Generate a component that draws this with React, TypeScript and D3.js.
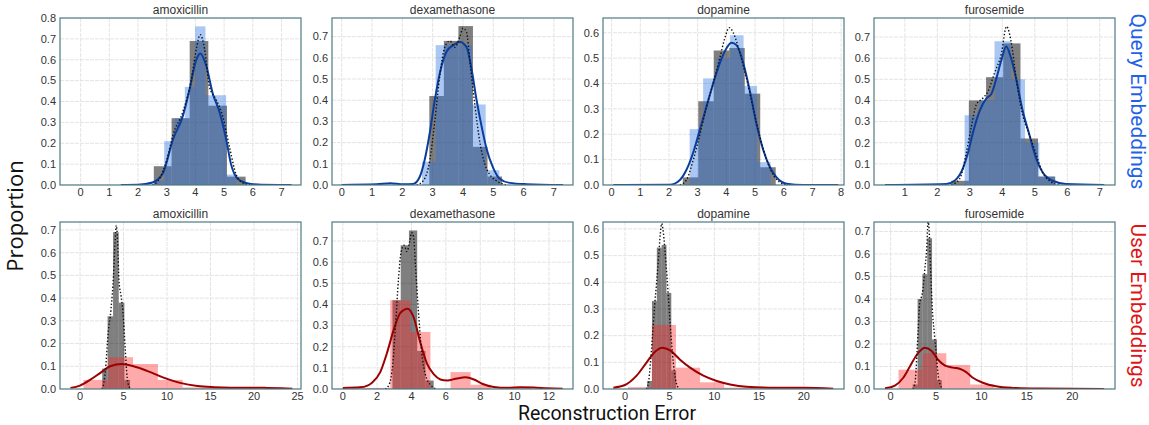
import React, { useEffect, useRef } from "react";
import * as d3 from "d3";

const drugs = ["amoxicillin", "dexamethasone", "dopamine", "furosemide"];

// gray reference histogram + dotted kde, same in both rows
const baseEdges = [
	[2.55, 3.17, 3.8, 4.45, 5.1, 5.75],
	[2.89, 3.37, 3.85, 4.33, 4.81, 5.29],
	[2.48, 3.02, 3.56, 4.1, 4.64, 5.18, 5.72],
	[2.43, 2.97, 3.5, 4.03, 4.56, 5.1, 5.63],
];
const baseHeights = [
	[0.09, 0.32, 0.69, 0.38, 0.04],
	[0.42, 0.68, 0.75, 0.18, 0.04],
	[0.03, 0.33, 0.53, 0.54, 0.36, 0.07],
	[0.02, 0.4, 0.51, 0.67, 0.22, 0.04],
];
const baseKde = [
	[[2.5, 0], [2.75, 0.03], [3.0, 0.12], [3.22, 0.24], [3.56, 0.35], [3.85, 0.5], [4.03, 0.65], [4.17, 0.72], [4.32, 0.65], [4.49, 0.47], [4.72, 0.41], [4.95, 0.33], [5.19, 0.18], [5.42, 0.05], [5.65, 0.01], [5.9, 0]],
	[[2.47, 0], [2.69, 0.02], [2.91, 0.12], [3.07, 0.3], [3.24, 0.52], [3.4, 0.65], [3.57, 0.68], [3.73, 0.65], [3.9, 0.7], [4.0, 0.74], [4.12, 0.72], [4.23, 0.58], [4.39, 0.38], [4.56, 0.2], [4.72, 0.1], [4.88, 0.05], [5.1, 0.02], [5.43, 0]],
	[[2.38, 0], [2.61, 0.02], [2.85, 0.1], [3.08, 0.2], [3.31, 0.31], [3.54, 0.4], [3.77, 0.5], [3.95, 0.58], [4.1, 0.62], [4.24, 0.6], [4.47, 0.52], [4.7, 0.42], [4.94, 0.3], [5.17, 0.19], [5.4, 0.1], [5.63, 0.04], [5.87, 0.01], [6.1, 0]],
	[[2.43, 0], [2.69, 0.03], [2.89, 0.15], [3.04, 0.27], [3.2, 0.38], [3.4, 0.41], [3.55, 0.44], [3.76, 0.53], [3.97, 0.62], [4.13, 0.75], [4.27, 0.68], [4.43, 0.5], [4.63, 0.33], [4.83, 0.24], [5.03, 0.15], [5.24, 0.06], [5.45, 0.02], [5.75, 0]],
];

// query embeddings (top row)
const queryEdges = [
	[2.55, 2.91, 3.27, 3.63, 3.99, 4.35, 4.71, 5.07, 5.43],
	[2.65, 3.1, 3.5, 3.9, 4.3, 4.75, 5.2],
	[2.72, 3.19, 3.66, 4.13, 4.6, 5.07, 5.54],
	[2.84, 3.3, 3.76, 4.27, 4.7, 5.14, 5.6],
];
const queryHeights = [
	[0.02, 0.21, 0.32, 0.47, 0.76, 0.43, 0.43, 0.05],
	[0.11, 0.66, 0.66, 0.66, 0.38, 0.07],
	[0.22, 0.42, 0.5, 0.59, 0.39, 0.09],
	[0.33, 0.4, 0.68, 0.5, 0.2, 0.04],
];
const queryKde = [
	[[1.4, 0], [2.0, 0.001], [2.5, 0.012], [2.87, 0.058], [3.22, 0.22], [3.56, 0.33], [3.8, 0.46], [4.03, 0.6], [4.17, 0.63], [4.38, 0.57], [4.6, 0.44], [4.84, 0.35], [5.07, 0.22], [5.24, 0.1], [5.47, 0.03], [5.76, 0.01], [6.3, 0.001], [7.35, 0]],
	[[0, 0], [1.15, 0.003], [1.6, 0.008], [2.03, 0.003], [2.36, 0.005], [2.58, 0.04], [2.74, 0.12], [2.91, 0.25], [3.07, 0.4], [3.24, 0.53], [3.46, 0.63], [3.68, 0.66], [3.9, 0.675], [4.12, 0.65], [4.28, 0.55], [4.45, 0.4], [4.61, 0.28], [4.78, 0.17], [5.0, 0.08], [5.21, 0.03], [5.54, 0.01], [6.09, 0.004], [7.3, 0]],
	[[0.06, 0], [2.03, 0.001], [2.38, 0.02], [2.61, 0.06], [2.85, 0.13], [3.08, 0.22], [3.31, 0.31], [3.54, 0.4], [3.77, 0.48], [4.01, 0.54], [4.18, 0.56], [4.36, 0.55], [4.59, 0.48], [4.82, 0.37], [5.05, 0.24], [5.28, 0.14], [5.52, 0.07], [5.75, 0.03], [6.1, 0.005], [6.68, 0], [7.9, 0]],
	[[0.39, 0], [2.28, 0.005], [2.53, 0.02], [2.79, 0.08], [2.94, 0.15], [3.1, 0.25], [3.3, 0.35], [3.51, 0.41], [3.66, 0.43], [3.81, 0.5], [3.97, 0.59], [4.12, 0.655], [4.27, 0.6], [4.43, 0.5], [4.63, 0.35], [4.83, 0.24], [5.03, 0.13], [5.24, 0.06], [5.55, 0.02], [5.96, 0.005], [7.14, 0]],
];

// user embeddings (bottom row)
const userEdges = [
	[0.4, 3.25, 6.1, 8.95, 11.8, 14.65, 17.5, 20.35, 23.2],
	[0.42, 1.59, 2.76, 3.93, 5.1, 6.27, 7.44, 8.61, 9.78, 10.95],
	[0.3, 3.0, 5.7, 8.4, 11.1, 13.8, 16.5, 19.2, 21.9],
	[0.87, 3.5, 6.13, 8.76, 11.39, 14.02, 16.65, 19.28, 21.91],
];
const userHeights = [
	[0.04, 0.14, 0.11, 0.04, 0.007, 0.005, 0.003, 0.003],
	[0.005, 0.005, 0.42, 0.27, 0, 0.08, 0.02, 0, 0.01],
	[0.007, 0.24, 0.08, 0.025, 0.005, 0.004, 0.003, 0.004],
	[0.086, 0.159, 0.107, 0.02, 0.004, 0.003, 0.003, 0.003],
];
const userKde = [
	[[-1.1, 0.005], [0, 0.015], [1.15, 0.04], [2.3, 0.07], [3.46, 0.1], [4.8, 0.11], [6.15, 0.1], [7.7, 0.08], [9.6, 0.05], [11.5, 0.027], [13.5, 0.013], [15.4, 0.008], [17.3, 0.006], [19.2, 0.006], [21.2, 0.005], [23.1, 0.003], [24.4, 0.001]],
	[[0, 0.005], [1.0, 0.008], [1.4, 0.015], [1.7, 0.03], [2.18, 0.08], [2.57, 0.17], [2.96, 0.28], [3.35, 0.36], [3.77, 0.38], [4.12, 0.34], [4.51, 0.22], [4.9, 0.12], [5.29, 0.07], [5.68, 0.045], [6.07, 0.04], [6.65, 0.05], [7.14, 0.055], [7.63, 0.045], [8.11, 0.025], [8.79, 0.01], [9.57, 0.006], [10.35, 0.008], [11.13, 0.007], [11.9, 0.003], [12.8, 0.001]],
	[[-1.3, 0.005], [0, 0.015], [1.3, 0.05], [2.43, 0.1], [3.36, 0.14], [4.2, 0.155], [5.04, 0.145], [6.16, 0.11], [7.28, 0.08], [8.77, 0.05], [10.26, 0.03], [11.75, 0.017], [13.6, 0.008], [16.2, 0.005], [20, 0.005], [23.3, 0.001]],
	[[-0.62, 0.003], [0.47, 0.015], [1.39, 0.05], [2.12, 0.1], [2.85, 0.15], [3.76, 0.183], [4.49, 0.17], [5.22, 0.13], [5.95, 0.105], [6.86, 0.095], [7.59, 0.09], [8.32, 0.075], [9.05, 0.05], [10.15, 0.028], [11.6, 0.012], [13.4, 0.005], [16.35, 0.002], [20, 0.001], [23.5, 0]],
];

// axis limits and ticks
const queryXDomain = [[-0.72, 7.68], [-0.32, 7.63], [-0.3, 8.1], [0.05, 7.47]];
const queryYMax = [0.8, 0.788, 0.658, 0.79];
const queryXTicks = [[0, 1, 2, 3, 4, 5, 6, 7], [0, 1, 2, 3, 4, 5, 6, 7], [0, 1, 2, 3, 4, 5, 6, 7, 8], [1, 2, 3, 4, 5, 6, 7]];
const queryYTicks = [
	[0, 0.1, 0.2, 0.3, 0.4, 0.5, 0.6, 0.7, 0.8],
	[0, 0.1, 0.2, 0.3, 0.4, 0.5, 0.6, 0.7],
	[0, 0.1, 0.2, 0.3, 0.4, 0.5, 0.6],
	[0, 0.1, 0.2, 0.3, 0.4, 0.5, 0.6, 0.7],
];
const userXDomain = [[-2.3, 25.4], [-0.63, 13.4], [-2.46, 24.5], [-1.83, 24.7]];
const userYMax = [0.735, 0.79, 0.626, 0.742];
const userXTicks = [[0, 5, 10, 15, 20, 25], [0, 2, 4, 6, 8, 10, 12], [0, 5, 10, 15, 20], [0, 5, 10, 15, 20]];
const userYTicks = [
	[0, 0.1, 0.2, 0.3, 0.4, 0.5, 0.6, 0.7],
	[0, 0.1, 0.2, 0.3, 0.4, 0.5, 0.6, 0.7],
	[0, 0.1, 0.2, 0.3, 0.4, 0.5, 0.6],
	[0, 0.1, 0.2, 0.3, 0.4, 0.5, 0.6, 0.7],
];

const rowLabels = ["Query Embeddings", "User Embeddings"];

const App = () => {
	const ref = useRef<SVGSVGElement>(null);

	useEffect(() => {
		document.body.style.margin = "0";
		const width = 1149;
		const height = 425;
		const panelLeft = [60, 332, 603, 874];
		const panelW = 241;
		const rowsPos = [
			{ top: 18, bottom: 185 },
			{ top: 222, bottom: 389 },
		];
		const rows = [
			{
				edges: queryEdges, heights: queryHeights, kde: queryKde,
				xDom: queryXDomain, yMax: queryYMax, xTicks: queryXTicks, yTicks: queryYTicks,
				fill: "#2d75e6", line: "#0a3d9c", labelColor: "#1e63e6",
			},
			{
				edges: userEdges, heights: userHeights, kde: userKde,
				xDom: userXDomain, yMax: userYMax, xTicks: userXTicks, yTicks: userYTicks,
				fill: "#ff2a2a", line: "#9c0000", labelColor: "#e01414",
			},
		];

		const svg = d3.select(ref.current);
		svg.selectAll("*").remove();
		svg.attr("width", width).attr("height", height);
		svg.append("rect").attr("width", width).attr("height", height).attr("fill", "#fff");
		const defs = svg.append("defs");

		const tickFont = "'Liberation Sans', Arial, sans-serif";

		rows.forEach((row, r) => {
			const { top, bottom } = rowsPos[r];
			drugs.forEach((drug, i) => {
				const left = panelLeft[i];
				const right = left + panelW;
				const x = d3.scaleLinear().domain(row.xDom[i]).range([left, right]);
				const y = d3.scaleLinear().domain([0, row.yMax[i]]).range([bottom, top]);
				const clipId = `clip-${r}-${i}`;
				defs.append("clipPath").attr("id", clipId)
					.append("rect").attr("x", left).attr("y", top).attr("width", panelW).attr("height", bottom - top);

				const g = svg.append("g");
				const plot = g.append("g").attr("clip-path", `url(#${clipId})`);

				// grid
				plot.selectAll(".gx").data(row.xTicks[i]).join("line")
					.attr("x1", (d) => x(d)).attr("x2", (d) => x(d))
					.attr("y1", top).attr("y2", bottom)
					.attr("stroke", "#e4e4e4").attr("stroke-width", 1).attr("stroke-dasharray", "4,1");
				plot.selectAll(".gy").data(row.yTicks[i]).join("line")
					.attr("x1", left).attr("x2", right)
					.attr("y1", (d) => y(d)).attr("y2", (d) => y(d))
					.attr("stroke", "#e4e4e4").attr("stroke-width", 1).attr("stroke-dasharray", "4,1");

				// gray reference bars
				const be = baseEdges[i];
				plot.append("g").selectAll("rect").data(baseHeights[i]).join("rect")
					.attr("x", (d, k) => x(be[k]))
					.attr("width", (d, k) => x(be[k + 1]) - x(be[k]))
					.attr("y", (d) => y(d))
					.attr("height", (d) => y(0) - y(d))
					.attr("fill", "#000").attr("fill-opacity", 0.5);

				// coloured bars
				const ce = row.edges[i];
				plot.append("g").selectAll("rect").data(row.heights[i]).join("rect")
					.attr("x", (d, k) => x(ce[k]))
					.attr("width", (d, k) => x(ce[k + 1]) - x(ce[k]))
					.attr("y", (d) => y(d))
					.attr("height", (d) => y(0) - y(d))
					.attr("fill", row.fill).attr("fill-opacity", 0.4);

				const line = d3.line<number[]>()
					.x((d) => x(d[0]))
					.y((d) => y(d[1]))
					.curve(d3.curveMonotoneX);

				plot.append("path").datum(row.kde[i])
					.attr("fill", "none").attr("stroke", row.line).attr("stroke-width", 2)
					.attr("d", line);
				plot.append("path").datum(baseKde[i])
					.attr("fill", "none").attr("stroke", "#111").attr("stroke-width", 1.4)
					.attr("stroke-dasharray", "1.4,2").attr("d", line);

				// frame
				g.append("rect").attr("x", left).attr("y", top).attr("width", panelW).attr("height", bottom - top)
					.attr("fill", "none").attr("stroke", "#4f7b82").attr("stroke-width", 1.2);

				// tick labels
				g.append("g").selectAll("text").data(row.xTicks[i]).join("text")
					.attr("x", (d) => x(d)).attr("y", bottom + 11)
					.attr("text-anchor", "middle")
					.attr("font-family", tickFont).attr("font-size", 11).attr("fill", "#333")
					.text((d) => d3.format("d")(d));
				g.append("g").selectAll("text").data(row.yTicks[i]).join("text")
					.attr("x", left - 4).attr("y", (d) => y(d)).attr("dy", "0.35em")
					.attr("text-anchor", "end")
					.attr("font-family", tickFont).attr("font-size", 11).attr("fill", "#333")
					.text((d) => d3.format(".1f")(d));

				g.append("text")
					.attr("x", (left + right) / 2).attr("y", top - 4)
					.attr("text-anchor", "middle")
					.attr("font-family", tickFont).attr("font-size", 12).attr("fill", "#333")
					.text(drug);
			});

			svg.append("text")
				.attr("transform", `translate(1131,${(top + bottom) / 2}) rotate(90)`)
				.attr("text-anchor", "middle")
				.attr("font-family", "Roboto, sans-serif").attr("font-size", 21)
				.attr("fill", row.labelColor)
				.text(rowLabels[r]);
		});

		svg.append("text")
			.attr("transform", "translate(23,216) rotate(-90)")
			.attr("text-anchor", "middle")
			.attr("font-family", "'Open Sans', sans-serif").attr("font-size", 22)
			.attr("fill", "#111")
			.text("Proportion");

		svg.append("text")
			.attr("x", 607).attr("y", 420)
			.attr("text-anchor", "middle")
			.attr("font-family", "Roboto, sans-serif").attr("font-size", 19.5)
			.attr("fill", "#111")
			.text("Reconstruction Error");
	}, []);

	return <svg ref={ref} style={{ display: "block" }}></svg>;
};

export default App;
